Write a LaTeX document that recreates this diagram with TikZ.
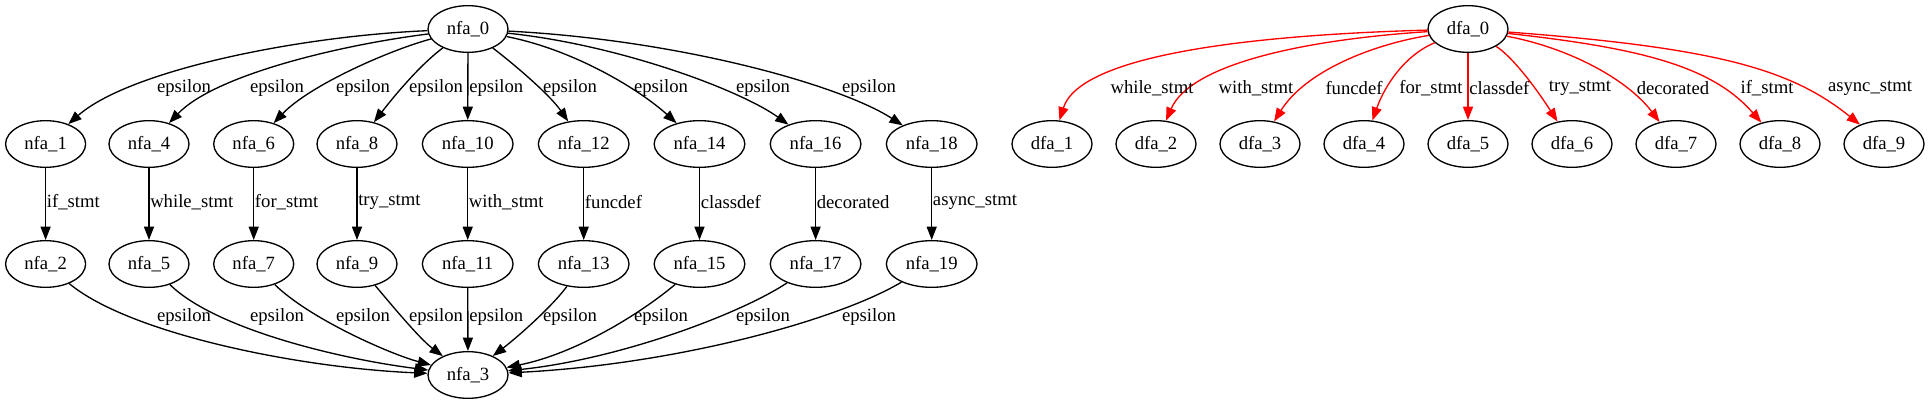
\documentclass[tikz,border=0pt]{standalone}
\usepackage{fontspec}
\setmainfont{Liberation Serif}
\usetikzlibrary{shapes, arrows.meta, positioning}

\begin{document}
\begin{tikzpicture}[x=0.75pt, y=-0.75pt, font=\fontsize{14}{16}\selectfont]
\tikzstyle{state} = [ellipse, draw=black, line width=1pt, minimum width=60pt, minimum height=35pt, inner sep=0pt]
\tikzstyle{widestate} = [state, minimum width=68pt]
\tikzstyle{arrow} = [line width=1pt, -{Triangle[length=10pt, width=7.5pt]}]
\tikzstyle{redarrow} = [arrow, red]
\tikzstyle{lbl} = [inner sep=0pt]

\useasboundingbox (0,0) rectangle (1930,403);

% nfa part
\node (nfa0) [state] at (468,29) {nfa\_0};
\node (nfa1) [state] at (45.6,144) {nfa\_1};
\node (nfa4) [state] at (149,144) {nfa\_4};
\node (nfa6) [state] at (253.7,144) {nfa\_6};
\node (nfa8) [state] at (357,144) {nfa\_8};
\node (nfa10) [widestate] at (467.7,144) {nfa\_10};
\node (nfa12) [widestate] at (583.7,144) {nfa\_12};
\node (nfa14) [widestate] at (699.5,144) {nfa\_14};
\node (nfa16) [widestate] at (815.6,144) {nfa\_16};
\node (nfa18) [widestate] at (931.7,144) {nfa\_18};

\node (nfa2) [state] at (45.6,264) {nfa\_2};
\node (nfa5) [state] at (149,264) {nfa\_5};
\node (nfa7) [state] at (253.7,264) {nfa\_7};
\node (nfa9) [state] at (357,264) {nfa\_9};
\node (nfa11) [widestate] at (467.7,264) {nfa\_11};
\node (nfa13) [widestate] at (583.7,264) {nfa\_13};
\node (nfa15) [widestate] at (699.5,264) {nfa\_15};
\node (nfa17) [widestate] at (815.6,264) {nfa\_17};
\node (nfa19) [widestate] at (931.7,264) {nfa\_19};

\node (nfa3) [state] at (468,375) {nfa\_3};

\draw [arrow] (nfa0) .. controls (300,36) and (130,70) .. (nfa1);
\draw [arrow] (nfa0) .. controls (340,45) and (215,75) .. (nfa4);
\draw [arrow] (nfa0) .. controls (390,50) and (310,85) .. (nfa6);
\draw [arrow] (nfa0) .. controls (420,65) and (395,95) .. (nfa8);
\draw [arrow] (nfa0) -- (nfa10);
\draw [arrow] (nfa0) .. controls (515,65) and (550,95) .. (nfa12);
\draw [arrow] (nfa0) .. controls (575,50) and (640,90) .. (nfa14);
\draw [arrow] (nfa0) .. controls (620,45) and (740,90) .. (nfa16);
\draw [arrow] (nfa0) .. controls (680,40) and (840,85) .. (nfa18);

\node (e1) [lbl] at (184,88) {epsilon};
\node (e4) [lbl] at (277,88) {epsilon};
\node (e6) [lbl] at (363,88) {epsilon};
\node (e8) [lbl] at (436,88) {epsilon};
\node (e10) [lbl, anchor=west] at (469,88) {epsilon};
\node (e12) [lbl] at (570,88) {epsilon};
\node (e14) [lbl] at (661,88) {epsilon};
\node (e16) [lbl] at (763,88) {epsilon};
\node (e18) [lbl] at (869,88) {epsilon};

\draw [arrow] (nfa1) -- (nfa2);
\draw [arrow] (nfa4) -- (nfa5);
\draw [arrow] (nfa6) -- (nfa7);
\draw [arrow] (nfa8) -- (nfa9);
\draw [arrow] (nfa10) -- (nfa11);
\draw [arrow] (nfa12) -- (nfa13);
\draw [arrow] (nfa14) -- (nfa15);
\draw [arrow] (nfa16) -- (nfa17);
\draw [arrow] (nfa18) -- (nfa19);

\node (t1) [lbl, anchor=west] at (46.6,202) {if\_stmt};
\node (t4) [lbl, anchor=west] at (150,202) {while\_stmt};
\node (t6) [lbl, anchor=west] at (254.7,202) {for\_stmt};
\node (t8) [lbl, anchor=west] at (358,202) {try\_stmt};
\node (t10) [lbl, anchor=west] at (468.7,202) {with\_stmt};
\node (t12) [lbl, anchor=west] at (584.7,202) {funcdef};
\node (t14) [lbl, anchor=west] at (700.5,202) {classdef};
\node (t16) [lbl, anchor=west] at (816.6,202) {decorated};
\node (t18) [lbl, anchor=west] at (932.7,202) {async\_stmt};

\draw [arrow] (nfa2) .. controls (130,334) and (300,368) .. (nfa3);
\draw [arrow] (nfa5) .. controls (215,329) and (340,359) .. (nfa3);
\draw [arrow] (nfa7) .. controls (310,319) and (390,354) .. (nfa3);
\draw [arrow] (nfa9) .. controls (395,309) and (420,339) .. (nfa3);
\draw [arrow] (nfa11) -- (nfa3);
\draw [arrow] (nfa13) .. controls (550,309) and (515,339) .. (nfa3);
\draw [arrow] (nfa15) .. controls (640,314) and (575,354) .. (nfa3);
\draw [arrow] (nfa17) .. controls (740,314) and (620,359) .. (nfa3);
\draw [arrow] (nfa19) .. controls (840,319) and (680,364) .. (nfa3);

\node (b2) [lbl] at (184,317) {epsilon};
\node (b5) [lbl] at (277,317) {epsilon};
\node (b7) [lbl] at (363,317) {epsilon};
\node (b9) [lbl] at (436,317) {epsilon};
\node (b11) [lbl, anchor=west] at (469,317) {epsilon};
\node (b13) [lbl] at (570,317) {epsilon};
\node (b15) [lbl] at (661,317) {epsilon};
\node (b17) [lbl] at (763,317) {epsilon};
\node (b19) [lbl] at (869,317) {epsilon};

% dfa part
\node (dfa0) [state] at (1468,29) {dfa\_0};
\node (dfa1) [state] at (1052,144) {dfa\_1};
\node (dfa2) [state] at (1156,144) {dfa\_2};
\node (dfa3) [state] at (1260,144) {dfa\_3};
\node (dfa4) [state] at (1364,144) {dfa\_4};
\node (dfa5) [state] at (1468,144) {dfa\_5};
\node (dfa6) [state] at (1572,144) {dfa\_6};
\node (dfa7) [state] at (1676,144) {dfa\_7};
\node (dfa8) [state] at (1780,144) {dfa\_8};
\node (dfa9) [state] at (1884,144) {dfa\_9};

\draw [redarrow] (dfa0) .. controls (1250,35) and (1080,55) .. (dfa1);
\draw [redarrow] (dfa0) .. controls (1300,40) and (1190,65) .. (dfa2);
\draw [redarrow] (dfa0) .. controls (1370,45) and (1305,72) .. (dfa3);
\draw [redarrow] (dfa0) .. controls (1405,55) and (1385,85) .. (dfa4);
\draw [redarrow] (dfa0) -- (dfa5);
\draw [redarrow] (dfa0) .. controls (1510,55) and (1532,82) .. (dfa6);
\draw [redarrow] (dfa0) .. controls (1570,48) and (1628,80) .. (dfa7);
\draw [redarrow] (dfa0) .. controls (1640,48) and (1712,66) .. (dfa8);
\draw [redarrow] (dfa0) .. controls (1720,48) and (1792,70) .. (dfa9);

\node (d1) [lbl] at (1152,88) {while\_stmt};
\node (d2) [lbl] at (1256,88) {with\_stmt};
\node (d3) [lbl] at (1354,88) {funcdef};
\node (d4) [lbl] at (1431,88) {for\_stmt};
\node (d5) [lbl, anchor=west] at (1469,88) {classdef};
\node (d6) [lbl] at (1580,88) {try\_stmt};
\node (d7) [lbl] at (1673,88) {decorated};
\node (d8) [lbl] at (1767,88) {if\_stmt};
\node (d9) [lbl] at (1870,88) {async\_stmt};

\end{tikzpicture}
\end{document}
